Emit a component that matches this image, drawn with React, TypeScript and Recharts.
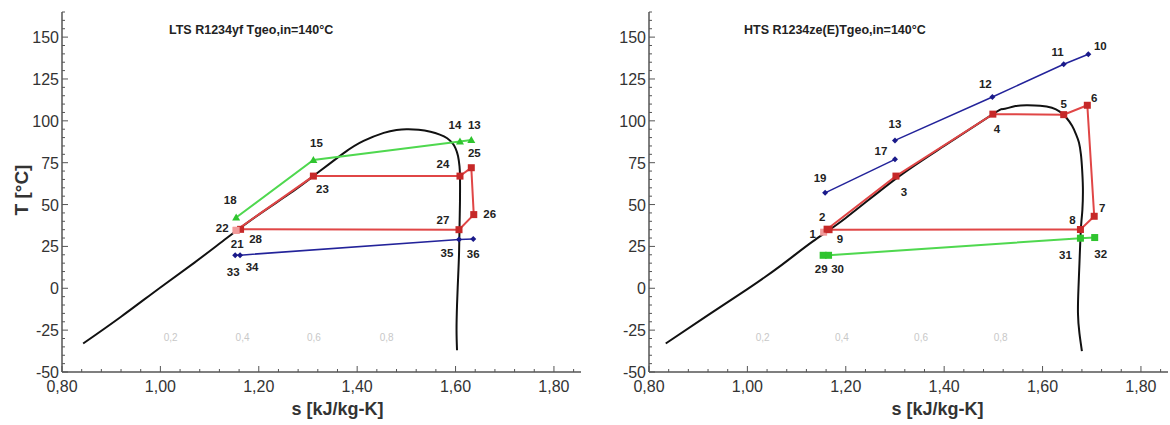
import React from 'react';
import { ScatterChart, Scatter, XAxis, YAxis } from 'recharts';

// ---- LTS R1234yf (left) ----
const ltsDomeS = [0.843, 0.92, 1.0, 1.07, 1.135, 1.2, 1.26, 1.311, 1.372, 1.413, 1.454, 1.48, 1.5, 1.525, 1.549, 1.568, 1.583, 1.594, 1.6, 1.605, 1.608, 1.609, 1.609, 1.608, 1.607, 1.605, 1.603, 1.602, 1.603];
const ltsDomeT = [-33, -17, 0.5, 15.5, 30, 44, 56, 67, 80.6, 88, 92.8, 94.5, 95, 94.7, 93.5, 91.8, 89.6, 86.5, 83.6, 79, 73, 67, 52, 35, 20, 5, -10, -25, -37];

const ltsRedIds = ['22', '23', '24', '25', '26', '27', '28'];
const ltsRedS = [1.154, 1.311, 1.609, 1.632, 1.637, 1.607, 1.163];
const ltsRedT = [34.6, 67, 67, 72, 44, 35, 35.2];

const ltsExtraIds = ['21'];
const ltsExtraS = [1.154];
const ltsExtraT = [34.6];

const ltsGreenIds = ['18', '15', '14', '13'];
const ltsGreenS = [1.154, 1.311, 1.609, 1.632];
const ltsGreenT = [42.3, 76.6, 87.6, 88.6];

const ltsBlueIds = ['33', '34', '35', '36'];
const ltsBlueS = [1.152, 1.162, 1.607, 1.636];
const ltsBlueT = [19.8, 19.8, 29.2, 29.4];

const ltsQualityText = ['0,2', '0,4', '0,6', '0,8'];
const ltsQualityS = [1.021, 1.167, 1.312, 1.46];

// ---- HTS R1234ze(E) (right) ----
const htsDomeS = [0.834, 0.92, 1.0, 1.07, 1.133, 1.2, 1.302, 1.4, 1.499, 1.52, 1.545, 1.57, 1.595, 1.619, 1.635, 1.648, 1.66, 1.668, 1.674, 1.678, 1.68, 1.682, 1.681, 1.679, 1.677, 1.675, 1.673, 1.672, 1.675, 1.68];
const htsDomeT = [-33, -16, -0.5, 14, 28, 42, 65.5, 85, 104, 107, 108.8, 109.3, 109, 107.8, 105.5, 102, 97, 92, 87, 80, 73, 60, 47, 40, 30, 15, 0, -15, -27, -37.5];

const htsRedIds = ['1', '2', '3', '4', '5', '6', '7', '8', '9'];
const htsRedS = [1.155, 1.162, 1.302, 1.499, 1.643, 1.691, 1.705, 1.677, 1.166];
const htsRedT = [33.5, 35.3, 67, 104, 103.7, 109.3, 43, 35.1, 35];

const htsBlueLowIds = ['19', '17'];
const htsBlueLowS = [1.158, 1.3];
const htsBlueLowT = [57, 77];

const htsBlueHighIds = ['13', '12', '11', '10'];
const htsBlueHighS = [1.3, 1.498, 1.643, 1.693];
const htsBlueHighT = [88.3, 114.2, 133.8, 139.8];

const htsGreenIds = ['29', '30', '31', '32'];
const htsGreenS = [1.154, 1.165, 1.677, 1.706];
const htsGreenT = [19.7, 19.7, 29.9, 30.3];

const htsQualityText = ['0,2', '0,4', '0,6', '0,8'];
const htsQualityS = [1.031, 1.192, 1.353, 1.515];

const qualityT = -29;

const xMajor = [0.8, 1.0, 1.2, 1.4, 1.6, 1.8];
const yMajor = [-50, -25, 0, 25, 50, 75, 100, 125, 150];

// label offsets (px) relative to each marker
const ltsLabelPos: Record<string, [number, number]> = {
  '13': [3, -15], '14': [-5, -17], '15': [3, -17], '18': [-6, -17],
  '22': [-14, -2], '21': [1, 14], '28': [15, 10], '23': [9, 13],
  '24': [-17, -12], '25': [3, -15], '26': [16, -1], '27': [-16, -10],
  '33': [-2, 17], '34': [12, 12], '35': [-12, 14], '36': [0, 15],
};
const htsLabelPos: Record<string, [number, number]> = {
  '10': [12, -8], '11': [-6, -12], '12': [-7, -13], '13': [0, -16],
  '17': [-14, -8], '19': [-5, -15], '4': [4, 15], '5': [0, -11],
  '6': [7, -7], '7': [8, -8], '8': [-8, -10], '2': [-5, -12],
  '1': [-11, 2], '9': [11, 9], '3': [8, 16], '29': [-2, 14],
  '30': [9, 14], '31': [-15, 17], '32': [6, 16],
};

const lightIds = ['22', '21', '1'];

const FONT = '"Liberation Sans", Arial, sans-serif';

const makeMinor = (lo: number, hi: number, step: number) => {
  const out: number[] = [];
  for (let k = 0; lo + k * step <= hi + 1e-9; k++) out.push(Math.round((lo + k * step) * 1000) / 1000);
  return out;
};
const xTicks = makeMinor(xMajor[0], 1.84, 0.04);
const yTicks = makeMinor(yMajor[0], 165, 5);

const toPts = (ids: string[], s: number[], T: number[]) => s.map((v, i) => ({ id: ids[i] ?? '', s: v, T: T[i] }));

const isMajor = (v: number, list: number[]) => list.some((m) => Math.abs(m - v) < 1e-6);

const XTick = (props: any) => {
  const { x, y, payload } = props;
  const v = payload.value;
  const major = isMajor(v, xMajor);
  return (
    <g>
      <line x1={x} x2={x} y1={y} y2={y - (major ? 6 : 3)} stroke="#555" strokeWidth={1} />
      {major && (
        <text x={x} y={y + 20} textAnchor="middle" fontSize={16} fill="#333" fontFamily={FONT}>
          {v.toFixed(2).replace('.', ',')}
        </text>
      )}
    </g>
  );
};

const YTick = (props: any) => {
  const { x, y, payload } = props;
  const v = payload.value;
  const major = isMajor(v, yMajor);
  return (
    <g>
      <line x1={x} x2={x + (major ? 6 : 3)} y1={y} y2={y} stroke="#555" strokeWidth={1} />
      {major && (
        <text x={x - 3} y={y + 6} textAnchor="end" fontSize={16} fill="#333" fontFamily={FONT}>
          {v}
        </text>
      )}
    </g>
  );
};

const noShape = () => <g />;

const markerShape = (kind: 'square' | 'triangle' | 'diamond', fill: string, pos: Record<string, [number, number]>) => (props: any) => {
  const { cx, cy, payload } = props;
  const off = pos[payload.id] || [0, 0];
  const col = lightIds.includes(payload.id) ? '#f19a9a' : fill;
  let mark: React.ReactNode = null;
  if (kind === 'square') mark = <rect x={cx - 3.5} y={cy - 3.5} width={7} height={7} fill={col} />;
  if (kind === 'triangle') mark = <polygon points={`${cx},${cy - 4} ${cx - 4},${cy + 3} ${cx + 4},${cy + 3}`} fill={col} />;
  if (kind === 'diamond') mark = <polygon points={`${cx},${cy - 3} ${cx + 3},${cy} ${cx},${cy + 3} ${cx - 3},${cy}`} fill={col} />;
  return (
    <g>
      {mark}
      <text x={cx + off[0]} y={cy + off[1] + 4} textAnchor="middle" fontSize={11.5} fontWeight="bold" fill="#222" fontFamily={FONT}>
        {payload.id}
      </text>
    </g>
  );
};

const qualityShape = (props: any) => {
  const { cx, cy, payload } = props;
  return (
    <text x={cx} y={cy + 4} textAnchor="middle" fontSize={10} fill="#c8c8c8" fontFamily={FONT}>
      {payload.id}
    </text>
  );
};

const RED_LINE = '#e04646';
const RED_MARK = '#c62828';
const GREEN_LINE = '#4fd84f';
const GREEN_MARK = '#2fc42f';
const BLUE_LINE = '#23239a';
const BLUE_MARK = '#1a1a8a';

const chartAxes = (
  <>
    <XAxis
      type="number"
      dataKey="s"
      domain={[0.8, 1.855]}
      allowDataOverflow
      ticks={xTicks}
      interval={0}
      tick={<XTick />}
      tickLine={false}
      tickSize={0}
      tickMargin={0}
      height={40}
      axisLine={{ stroke: '#555', strokeWidth: 1.5 }}
    />
    <YAxis
      type="number"
      dataKey="T"
      domain={[-50, 165]}
      allowDataOverflow
      ticks={yTicks}
      interval={0}
      tick={<YTick />}
      tickLine={false}
      tickSize={0}
      tickMargin={0}
      width={62}
      axisLine={{ stroke: '#555', strokeWidth: 1.5 }}
    />
  </>
);

const App: React.FC = () => {
  const margin = { top: 12, bottom: 13, left: 0 };
  return (
    <div style={{ position: 'absolute', left: 0, top: 0, width: 1170, height: 425, background: '#fff', fontFamily: FONT }}>
      <div style={{ position: 'absolute', left: 0, top: 0 }}>
        <ScatterChart width={600} height={425} margin={{ ...margin, right: 19 }}>
          {chartAxes}
          <Scatter data={toPts(ltsQualityText, ltsQualityS, ltsQualityS.map(() => qualityT))} shape={qualityShape} isAnimationActive={false} />
          <Scatter data={toPts([], ltsDomeS, ltsDomeT)} line={{ stroke: '#111', strokeWidth: 2 }} lineJointType="natural" shape={noShape} isAnimationActive={false} />
          <Scatter data={toPts(ltsBlueIds, ltsBlueS, ltsBlueT)} line={{ stroke: BLUE_LINE, strokeWidth: 1.5 }} shape={markerShape('diamond', BLUE_MARK, ltsLabelPos)} isAnimationActive={false} />
          <Scatter data={toPts(ltsGreenIds, ltsGreenS, ltsGreenT)} line={{ stroke: GREEN_LINE, strokeWidth: 2 }} shape={markerShape('triangle', GREEN_MARK, ltsLabelPos)} isAnimationActive={false} />
          <Scatter data={toPts(ltsRedIds, ltsRedS, ltsRedT)} line={{ stroke: RED_LINE, strokeWidth: 2 }} shape={markerShape('square', RED_MARK, ltsLabelPos)} isAnimationActive={false} />
          <Scatter data={toPts(ltsExtraIds, ltsExtraS, ltsExtraT)} shape={markerShape('square', RED_MARK, ltsLabelPos)} isAnimationActive={false} />
        </ScatterChart>
      </div>
      <div style={{ position: 'absolute', left: 587, top: 0 }}>
        <ScatterChart width={583} height={425} margin={{ ...margin, right: 2 }}>
          {chartAxes}
          <Scatter data={toPts(htsQualityText, htsQualityS, htsQualityS.map(() => qualityT))} shape={qualityShape} isAnimationActive={false} />
          <Scatter data={toPts([], htsDomeS, htsDomeT)} line={{ stroke: '#111', strokeWidth: 2 }} lineJointType="natural" shape={noShape} isAnimationActive={false} />
          <Scatter data={toPts(htsGreenIds, htsGreenS, htsGreenT)} line={{ stroke: GREEN_LINE, strokeWidth: 2 }} shape={markerShape('square', GREEN_MARK, htsLabelPos)} isAnimationActive={false} />
          <Scatter data={toPts(htsBlueLowIds, htsBlueLowS, htsBlueLowT)} line={{ stroke: BLUE_LINE, strokeWidth: 1.5 }} shape={markerShape('diamond', BLUE_MARK, htsLabelPos)} isAnimationActive={false} />
          <Scatter data={toPts(htsBlueHighIds, htsBlueHighS, htsBlueHighT)} line={{ stroke: BLUE_LINE, strokeWidth: 1.5 }} shape={markerShape('diamond', BLUE_MARK, htsLabelPos)} isAnimationActive={false} />
          <Scatter data={toPts(htsRedIds, htsRedS, htsRedT)} line={{ stroke: RED_LINE, strokeWidth: 2 }} shape={markerShape('square', RED_MARK, htsLabelPos)} isAnimationActive={false} />
        </ScatterChart>
      </div>

      {/* titles and axis names */}
      <div style={{ position: 'absolute', left: 169, top: 23, fontSize: 12.5, fontWeight: 'bold', color: '#222', whiteSpace: 'nowrap' }}>
        LTS R1234yf Tgeo,in=140°C
      </div>
      <div style={{ position: 'absolute', left: 744, top: 23, fontSize: 12.5, fontWeight: 'bold', color: '#222', whiteSpace: 'nowrap' }}>
        HTS R1234ze(E)Tgeo,in=140°C
      </div>
      <div style={{ position: 'absolute', left: 280, top: 399, width: 115, textAlign: 'center', fontSize: 18, fontWeight: 'bold', color: '#333', whiteSpace: 'nowrap' }}>
        s [kJ/kg-K]
      </div>
      <div style={{ position: 'absolute', left: 880, top: 399, width: 115, textAlign: 'center', fontSize: 18, fontWeight: 'bold', color: '#333', whiteSpace: 'nowrap' }}>
        s [kJ/kg-K]
      </div>
      <div style={{ position: 'absolute', left: 22, top: 190, transform: 'translate(-50%, -50%) rotate(-90deg)', fontSize: 19, fontWeight: 'bold', color: '#333', whiteSpace: 'nowrap' }}>
        T [°C]
      </div>
    </div>
  );
};

export default App;
